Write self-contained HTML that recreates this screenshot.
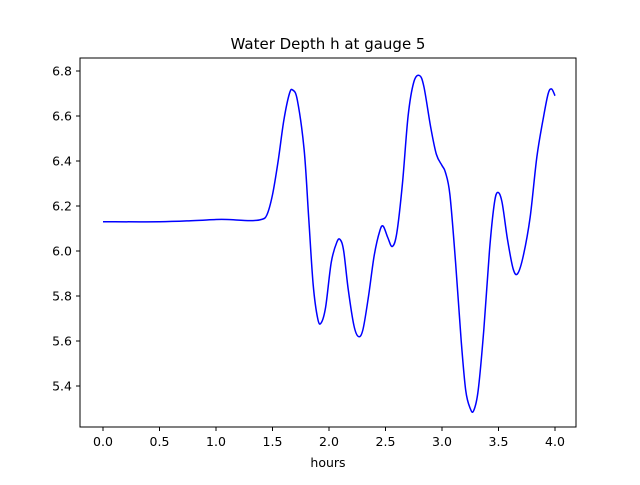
<!DOCTYPE html>
<html><head><meta charset="utf-8"><style>
body{margin:0;background:#fff;}
text{font-family:"DejaVu Sans","Liberation Sans",sans-serif;}
</style></head><body>
<svg id="chart" width="640" height="480" viewBox="0 0 640 480">
<rect width="640" height="480" fill="#fff"/>
<text x="328" y="49" text-anchor="middle" font-size="15">Water Depth h at gauge 5</text>
<g id="axes"></g>
<path id="line" fill="none" stroke="#0000ff" stroke-width="1.5"/>
<rect x="80" y="58" width="496" height="369" fill="none" stroke="#000" stroke-width="1"/>
<text x="328" y="467" text-anchor="middle" font-size="12.5">hours</text>
</svg>
<script>
const hours=[0,0.5,0.8,1.0,1.1,1.3,1.4,1.45,1.5,1.55,1.6,1.65,1.68,1.72,1.78,1.82,1.86,1.9,1.93,1.97,2.02,2.07,2.1,2.13,2.17,2.22,2.26,2.3,2.35,2.4,2.45,2.48,2.52,2.56,2.6,2.65,2.7,2.75,2.8,2.84,2.9,2.95,3.0,3.03,3.07,3.12,3.17,3.21,3.25,3.28,3.32,3.37,3.42,3.46,3.49,3.53,3.58,3.63,3.67,3.72,3.78,3.84,3.9,3.94,3.97,4.0];
const depth=[6.13,6.13,6.135,6.14,6.14,6.135,6.14,6.16,6.25,6.4,6.58,6.7,6.715,6.67,6.45,6.15,5.85,5.7,5.68,5.75,5.95,6.04,6.05,6.0,5.83,5.67,5.62,5.65,5.8,5.98,6.09,6.11,6.06,6.02,6.08,6.3,6.6,6.75,6.78,6.73,6.55,6.43,6.38,6.35,6.25,5.95,5.6,5.38,5.3,5.29,5.38,5.65,6.0,6.2,6.26,6.22,6.05,5.92,5.9,5.98,6.15,6.42,6.6,6.7,6.72,6.69];
const xTicks=[0,0.5,1,1.5,2,2.5,3,3.5,4];
const xTickLabels=["0.0","0.5","1.0","1.5","2.0","2.5","3.0","3.5","4.0"];
const yTicks=[5.4,5.6,5.8,6.0,6.2,6.4,6.6,6.8];
const yTickLabels=["5.4","5.6","5.8","6.0","6.2","6.4","6.6","6.8"];
const X=v=>103+v*113;
const Y=v=>71+(6.8-v)*225;
const NS="http://www.w3.org/2000/svg";
const axes=document.getElementById('axes');
function mk(tag,attrs){const e=document.createElementNS(NS,tag);for(const k in attrs)e.setAttribute(k,attrs[k]);return e;}
xTicks.forEach((t,i)=>{
  const l=mk('line',{x1:X(t),x2:X(t),y1:427,y2:431,stroke:'#000'});
  
  
  axes.appendChild(l);
  const tx=mk('text',{x:X(t),y:446,'text-anchor':'middle','font-size':'12.5'});
  tx.textContent=xTickLabels[i];
  
  
  axes.appendChild(tx);
});
yTicks.forEach((t,i)=>{
  const l=mk('line',{x1:76,x2:80,y1:Y(t),y2:Y(t),stroke:'#000'});
  
  
  axes.appendChild(l);
  const tx=mk('text',{x:72,y:Y(t)+4.5,'text-anchor':'end','font-size':'12.5'});
  tx.textContent=yTickLabels[i];
  
  
  axes.appendChild(tx);
});
const pts=hours.map((h,i)=>[X(h),Y(depth[i])]);
let d='M'+pts[0][0]+','+pts[0][1];
for(let i=0;i<pts.length-1;i++){
  const p0=pts[Math.max(0,i-1)],p1=pts[i],p2=pts[i+1],p3=pts[Math.min(pts.length-1,i+2)];
  const c1=[p1[0]+(p2[0]-p0[0])/6,p1[1]+(p2[1]-p0[1])/6];
  const c2=[p2[0]-(p3[0]-p1[0])/6,p2[1]-(p3[1]-p1[1])/6];
  d+=` C${c1[0]},${c1[1]} ${c2[0]},${c2[1]} ${p2[0]},${p2[1]}`;
}
document.getElementById('line').setAttribute('d',d);
</script>
</body></html>
